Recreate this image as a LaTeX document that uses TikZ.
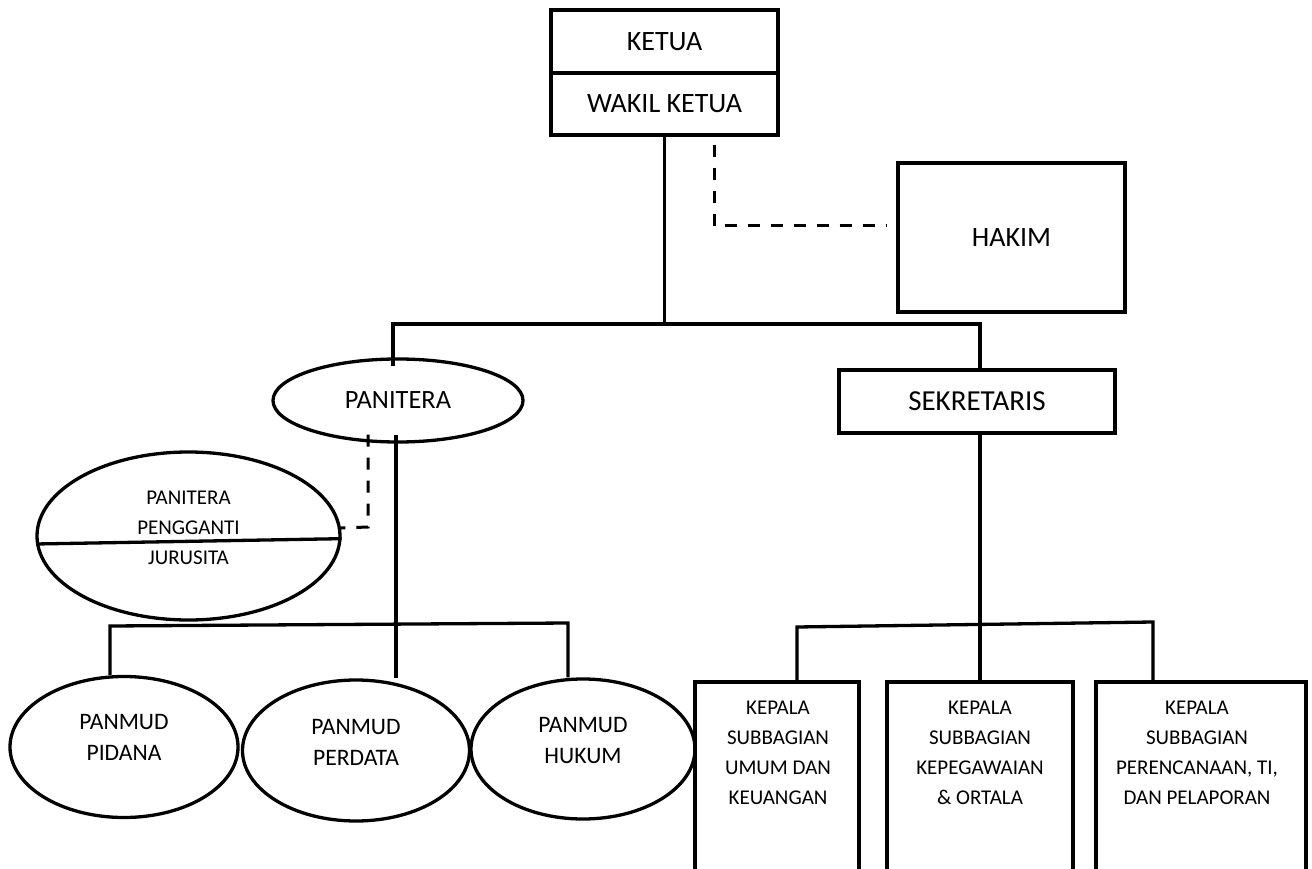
\documentclass[tikz,border=0pt]{standalone}
\usepackage{fontspec}
\setmainfont{Carlito}
\usetikzlibrary{shapes.geometric,calc}
\begin{document}
\begin{tikzpicture}[x=1pt,y=-1pt,
  ln/.style={line width=3.3pt},
  box/.style={draw,line width=3.3pt,rectangle,inner sep=0pt},
  ell/.style={draw,line width=3.3pt,ellipse,inner sep=0pt},
  dashline/.style={line width=3pt,dash pattern=on 12pt off 11pt},
  big/.style={font=\fontsize{28}{34}\selectfont},
  mid/.style={font=\fontsize{23.6}{31}\selectfont,align=center},
  small/.style={font=\fontsize{21}{30}\selectfont,align=center}]
\useasboundingbox (0,0) rectangle (1312,869);
\clip (0,0) rectangle (1312,869);
\fill[white] (0,0) rectangle (1312,869);

% top
\node[box,big,minimum width=227pt,minimum height=63pt] (ketua) at (664.5,41.5) {KETUA};
\node[box,big,minimum width=227pt,minimum height=62pt] (wakil) at (664.5,104) {WAKIL KETUA};
\node[box,big,minimum width=227pt,minimum height=149pt] (hakim) at (1011.5,237.5) {HAKIM};

% second level
\node[ell,font=\fontsize{26.4}{32}\selectfont,minimum width=250pt,minimum height=83pt] (pan) at (398,400.5) {PANITERA};
\node[box,font=\fontsize{29}{34}\selectfont,minimum width=276pt,minimum height=63pt] (sek) at (977,401.5) {SEKRETARIS};

% panitera pengganti / jurusita
\node[ell,minimum width=303pt,minimum height=168pt] (pp) at (188.5,536) {};
\node[small] (ppt) at (188.5,528) {PANITERA\\PENGGANTI\\JURUSITA};
\draw[ln] (pp.183) -- (pp.-1);

% panmud
\node[ell,minimum width=228pt,minimum height=141pt] (pidana) at (124,747) {};
\node[ell,minimum width=227pt,minimum height=141pt] (perdata) at (356,750.5) {};
\node[ell,minimum width=224pt,minimum height=140pt] (hukum) at (583,749) {};
\node[mid] (pidanat) at ($(pidana)+(0,-9.5)$) {PANMUD\\PIDANA};
\node[mid] (perdatat) at ($(perdata)+(0,-8.5)$) {PANMUD\\PERDATA};
\node[mid] (hukumt) at ($(hukum)+(0,-8.5)$) {PANMUD\\HUKUM};

% kepala subbagian
\node[box,minimum width=164pt,minimum height=190pt] (k1) at (777,777) {};
\node[box,minimum width=186pt,minimum height=190pt] (k2) at (980,777) {};
\node[box,minimum width=210pt,minimum height=190pt] (k3) at (1201,777) {};
\node[small] (k1t) at (778,753) {KEPALA\\SUBBAGIAN\\UMUM DAN\\KEUANGAN};
\node[small] (k2t) at (980,753) {KEPALA\\SUBBAGIAN\\KEPEGAWAIAN\\\& ORTALA};
\node[small] (k3t) at (1197,753) {KEPALA\\SUBBAGIAN\\PERENCANAAN, TI,\\DAN PELAPORAN};

% connectors
\coordinate (j1) at (393,324);
\coordinate (j2) at (980,324);
\draw[ln] (wakil.south) -- (wakil.south |- j1);
\draw[ln] ($(j1 |- pan.north)+(0,9)$) -- (j1) -- (j2) -- (j2 |- sek.north);

\coordinate (dh) at (714,226);
\draw[dashline] ($(wakil.south -| dh)+(0,8)$) -- (dh) -- ($(dh -| hakim.west)+(-10,0)$);

\coordinate (dp) at (368,527);
\draw[dashline] ($(dp |- pan.south)+(0,-9)$) -- (dp) -- (pp.3);

\coordinate (vp) at ($(pan.south)+(-2,-9)$);
\draw[ln] (vp) -- (vp |- perdata.north);

\coordinate (b1) at (110,626);
\coordinate (b2) at (568,623);
\draw[ln] (b1 |- pidana.north) -- (b1) -- (b2) -- (b2 |- hukum.north);

\draw[ln] (k2.north |- sek.south) -- (k2.north);
\coordinate (c1) at (797,627);
\coordinate (c2) at (1153,622);
\draw[ln] (c1 |- k1.north) -- (c1) -- (c2) -- (c2 |- k3.north);
\end{tikzpicture}
\end{document}
